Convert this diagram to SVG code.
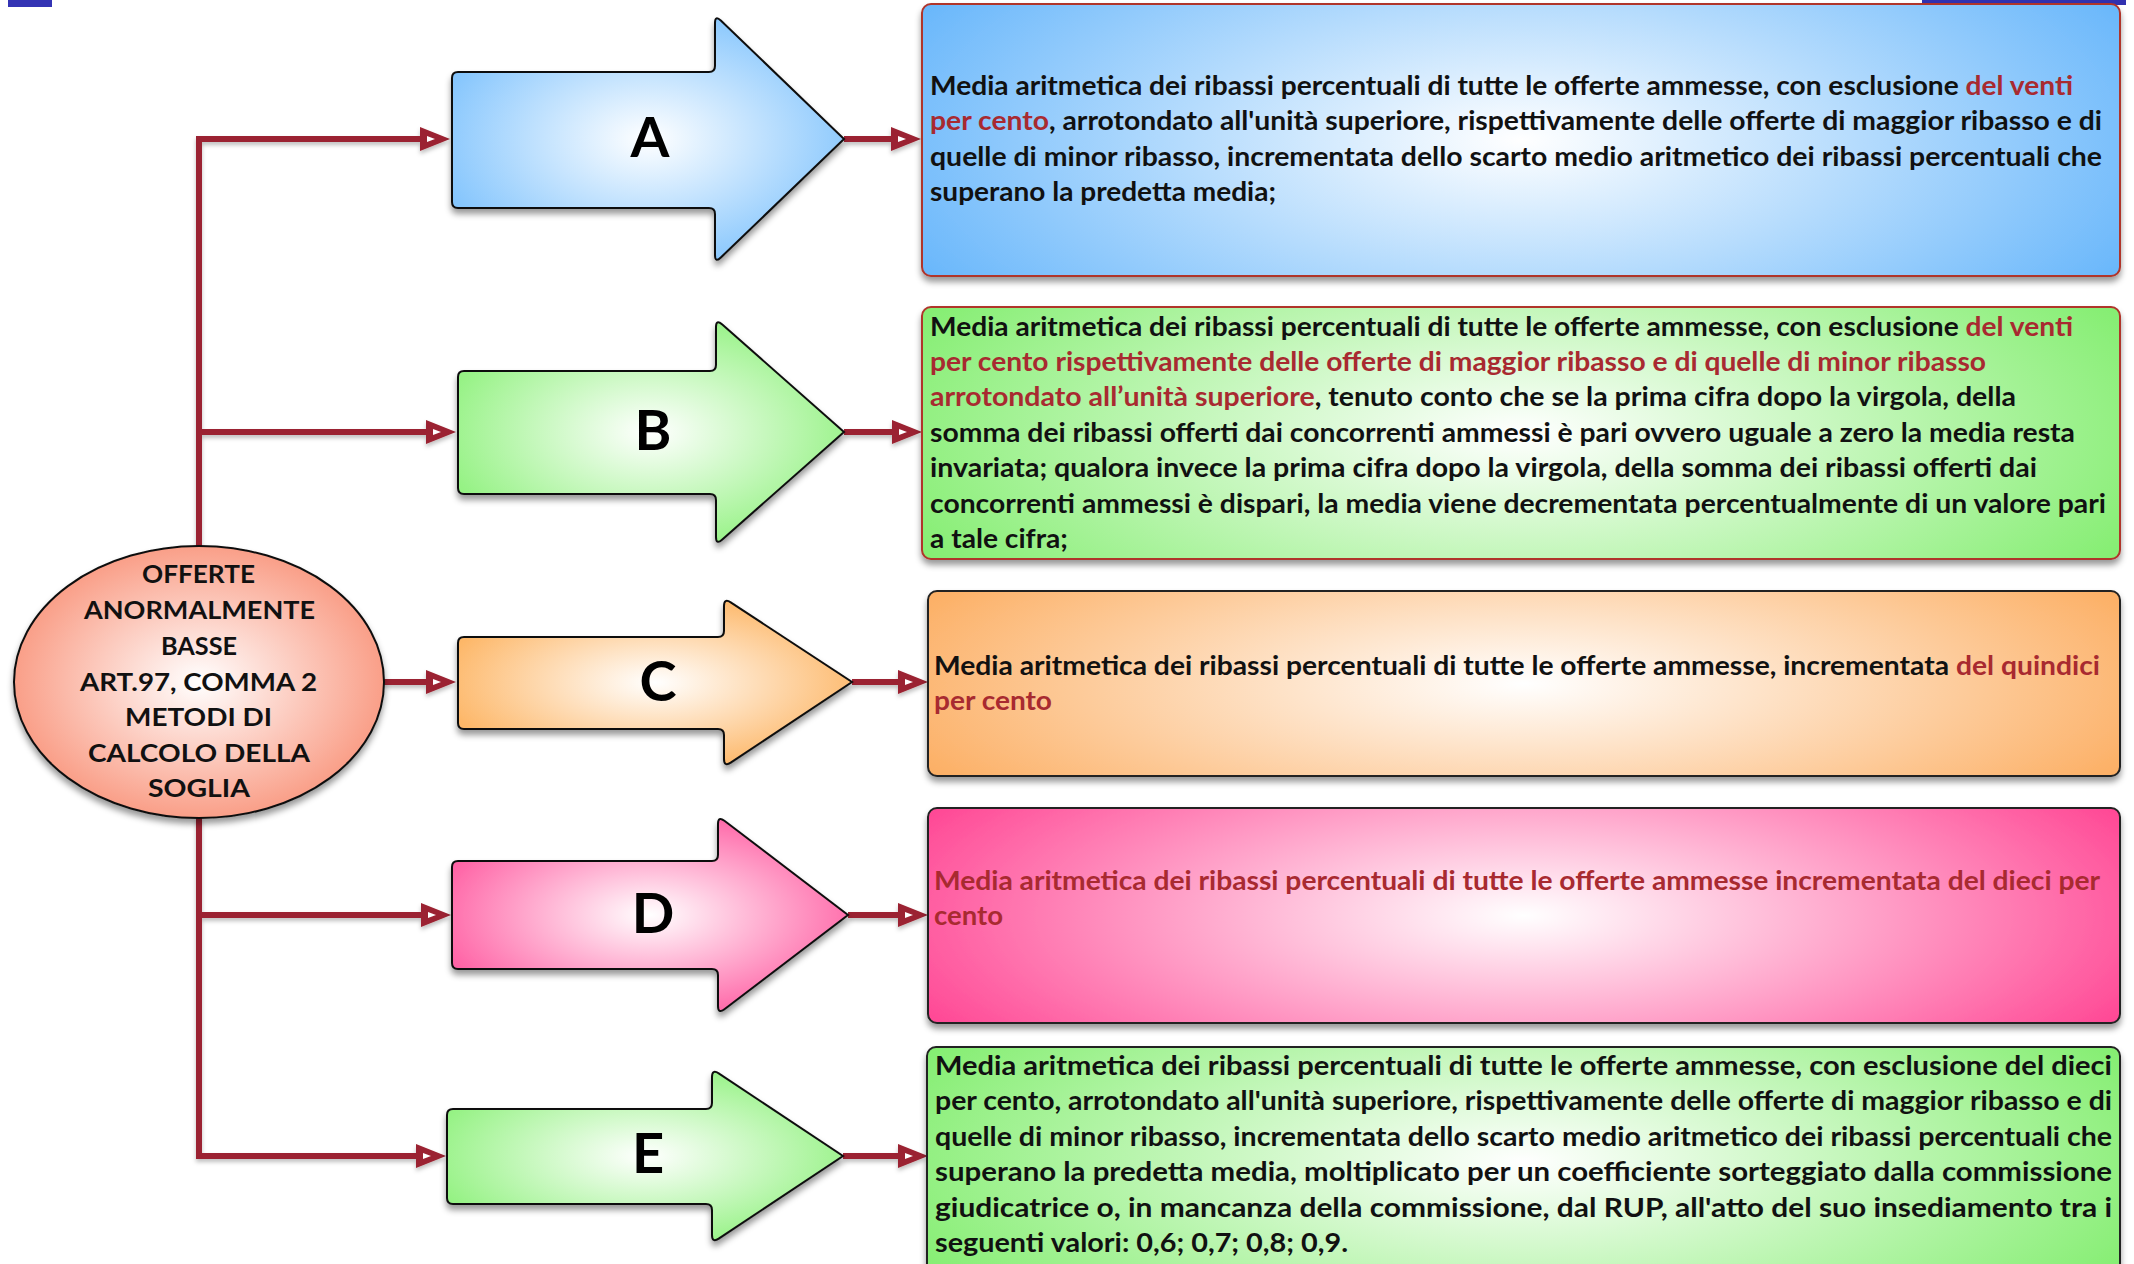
<svg xmlns="http://www.w3.org/2000/svg" width="2134" height="1264" viewBox="0 0 2134 1264">
  <defs>
    <style>
      .tx { font-family: Lato, "Liberation Sans", "DejaVu Sans", sans-serif; font-weight: 700; font-size: 26px; fill: #111; }
      .rd { fill: #a82a30; }
      .big { font-family: Lato, "Liberation Sans", sans-serif; font-weight: 700; font-size: 56px; fill: #000; text-anchor: middle; }
      .cap { font-family: Lato, "Liberation Sans", sans-serif; font-weight: 700; font-size: 25px; fill: #111; }
      .wire { fill: none; stroke: #9b2131; stroke-width: 6; stroke-linejoin: miter; marker-end: url(#head); }
      .shape { stroke: #111; stroke-width: 2; filter: url(#shadow); }
      .boxR { stroke: #b0352c; stroke-width: 2; filter: url(#shadow); }
      .boxK { stroke: #222; stroke-width: 2; filter: url(#shadow); }
    </style>
    <filter id="shadow" x="-5%" y="-5%" width="110%" height="120%">
      <feDropShadow dx="0" dy="5" stdDeviation="3" flood-color="#000" flood-opacity="0.4"/>
    </filter>
    <filter id="wshadow" x="-5%" y="-20%" width="110%" height="160%">
      <feDropShadow dx="0" dy="3" stdDeviation="2" flood-color="#000" flood-opacity="0.25"/>
    </filter>
    <marker id="head" markerUnits="userSpaceOnUse" markerWidth="32" markerHeight="26" refX="0" refY="12" orient="auto" overflow="visible">
      <path d="M0,0 L30,12 L0,24 Z" fill="#9b2131"/>
      <path d="M7,9 L15,12 L7,15 Z" fill="#fff"/>
    </marker>
    <!-- soft radial fills: white in the middle, colour at the rim -->
    <radialGradient id="gBlue" cx="0.5" cy="0.5" r="0.55">
      <stop offset="0" stop-color="#ffffff"/>
      <stop offset="1" stop-color="#86c6fd"/>
    </radialGradient>
    <radialGradient id="gGreen" cx="0.5" cy="0.5" r="0.55">
      <stop offset="0" stop-color="#ffffff"/>
      <stop offset="1" stop-color="#96f285"/>
    </radialGradient>
    <radialGradient id="gOrange" cx="0.5" cy="0.5" r="0.55">
      <stop offset="0" stop-color="#ffffff"/>
      <stop offset="1" stop-color="#fdb768"/>
    </radialGradient>
    <radialGradient id="gPink" cx="0.5" cy="0.5" r="0.55">
      <stop offset="0" stop-color="#ffffff"/>
      <stop offset="1" stop-color="#ff64a6"/>
    </radialGradient>
    <radialGradient id="gSalmon" cx="0.5" cy="0.5" r="0.55">
      <stop offset="0" stop-color="#ffffff"/>
      <stop offset="1" stop-color="#f9957c"/>
    </radialGradient>
    <!-- box fills: wider falloff vertically so the colour sits on the sides -->
    <radialGradient id="gBlueBox" cx="0.5" cy="0.5" r="0.56" gradientTransform="translate(0.5 0.5) scale(1 1.8) translate(-0.5 -0.5)">
      <stop offset="0" stop-color="#ffffff"/>
      <stop offset="1" stop-color="#6bb8fb"/>
    </radialGradient>
    <radialGradient id="gGreenBox" cx="0.5" cy="0.5" r="0.56" gradientTransform="translate(0.5 0.5) scale(1 1.8) translate(-0.5 -0.5)">
      <stop offset="0" stop-color="#ffffff"/>
      <stop offset="1" stop-color="#86ee73"/>
    </radialGradient>
    <radialGradient id="gOrangeBox" cx="0.5" cy="0.5" r="0.56" gradientTransform="translate(0.5 0.5) scale(1 1.8) translate(-0.5 -0.5)">
      <stop offset="0" stop-color="#ffffff"/>
      <stop offset="1" stop-color="#fcb066"/>
    </radialGradient>
    <radialGradient id="gPinkBox" cx="0.5" cy="0.5" r="0.56" gradientTransform="translate(0.5 0.5) scale(1 1.8) translate(-0.5 -0.5)">
      <stop offset="0" stop-color="#ffffff"/>
      <stop offset="1" stop-color="#ff4a96"/>
    </radialGradient>
  </defs>

  <rect width="2134" height="1264" fill="#ffffff"/>

  <!-- slide edge bars -->
  <rect x="8" y="0" width="44" height="7" fill="#3434b4"/>
  <rect x="1922" y="0" width="204" height="5" fill="#3131b0"/>

  <!-- connectors -->
  <g id="connectors" filter="url(#wshadow)">
    <path class="wire" d="M199,546 V139 H420"/>
    <path class="wire" d="M199,432 H426"/>
    <path class="wire" d="M383,682 H426"/>
    <path class="wire" d="M199,817 V1156 H416"/>
    <path class="wire" d="M199,915 H421"/>
    <path class="wire" d="M844,139 H891"/>
    <path class="wire" d="M844,432 H892"/>
    <path class="wire" d="M852,682 H898"/>
    <path class="wire" d="M848,915 H898"/>
    <path class="wire" d="M843,1156 H898"/>
  </g>

  <!-- central ellipse -->
  <g id="root">
    <ellipse class="shape" cx="199" cy="682" rx="185" ry="136" fill="url(#gSalmon)"/>
    <text class="cap" x="142" y="583" textLength="113" lengthAdjust="spacingAndGlyphs">OFFERTE</text>
    <text class="cap" x="84" y="619" textLength="231" lengthAdjust="spacingAndGlyphs">ANORMALMENTE</text>
    <text class="cap" x="161" y="655" textLength="76" lengthAdjust="spacingAndGlyphs">BASSE</text>
    <text class="cap" x="80" y="691" textLength="237" lengthAdjust="spacingAndGlyphs">ART.97, COMMA 2</text>
    <text class="cap" x="125" y="726" textLength="147" lengthAdjust="spacingAndGlyphs">METODI DI</text>
    <text class="cap" x="88" y="762" textLength="222" lengthAdjust="spacingAndGlyphs">CALCOLO DELLA</text>
    <text class="cap" x="148" y="797" textLength="102" lengthAdjust="spacingAndGlyphs">SOGLIA</text>
  </g>

  <!-- block arrows -->
  <g id="arrow-a">
    <path class="shape" fill="url(#gBlue)" d="M458,72 H709 Q715,72 715,66 V23 Q715,15 720.8,20.5 L844,139 L720.8,257.5 Q715,263 715,255 V214 Q715,208 709,208 H458 Q452,208 452,202 V78 Q452,72 458,72 Z"/>
    <text class="big" x="650" y="157">A</text>
  </g>
  <g id="arrow-b">
    <path class="shape" fill="url(#gGreen)" d="M464,371 H710 Q716,371 716,365 V327 Q716,319 722,324.3 L844,432 L722,539.7 Q716,545 716,537 V500 Q716,494 710,494 H464 Q458,494 458,488 V377 Q458,371 464,371 Z"/>
    <text class="big" x="653" y="450">B</text>
  </g>
  <g id="arrow-c">
    <path class="shape" fill="url(#gOrange)" d="M464,637 H718 Q724,637 724,631 V606 Q724,598 730.7,602.4 L852,682 L730.7,762.6 Q724,767 724,759 V735 Q724,729 718,729 H464 Q458,729 458,723 V643 Q458,637 464,637 Z"/>
    <text class="big" x="658" y="701">C</text>
  </g>
  <g id="arrow-d">
    <path class="shape" fill="url(#gPink)" d="M458,861 H712 Q718,861 718,855 V824 Q718,816 724.4,820.8 L848,915 L724.4,1009.2 Q718,1014 718,1006 V975 Q718,969 712,969 H458 Q452,969 452,963 V867 Q452,861 458,861 Z"/>
    <text class="big" x="653" y="933">D</text>
  </g>
  <g id="arrow-e">
    <path class="shape" fill="url(#gGreen)" d="M453,1109 H706 Q712,1109 712,1103 V1077 Q712,1069 718.7,1073.4 L843,1156 L718.7,1238.6 Q712,1243 712,1235 V1210 Q712,1204 706,1204 H453 Q447,1204 447,1198 V1115 Q447,1109 453,1109 Z"/>
    <text class="big" x="648" y="1173">E</text>
  </g>

  <!-- description boxes -->
  <g id="box-a">
    <rect class="boxR" x="922" y="4" width="1198" height="272" rx="9" fill="url(#gBlueBox)"/>
    <text class="tx" x="930" y="95" textLength="1143" lengthAdjust="spacingAndGlyphs">Media aritmetica dei ribassi percentuali di tutte le offerte ammesse, con esclusione <tspan class="rd">del venti</tspan></text>
    <text class="tx" x="930" y="130" textLength="1172" lengthAdjust="spacingAndGlyphs"><tspan class="rd">per cento</tspan>, arrotondato all'unità superiore, rispettivamente delle offerte di maggior ribasso e di</text>
    <text class="tx" x="930" y="166" textLength="1172" lengthAdjust="spacingAndGlyphs">quelle di minor ribasso, incrementata dello scarto medio aritmetico dei ribassi percentuali che</text>
    <text class="tx" x="930" y="201" textLength="346" lengthAdjust="spacingAndGlyphs">superano la predetta media;</text>
  </g>

  <g id="box-b">
    <rect class="boxR" x="922" y="307" width="1198" height="252" rx="9" fill="url(#gGreenBox)"/>
    <text class="tx" x="930" y="336" textLength="1143" lengthAdjust="spacingAndGlyphs">Media aritmetica dei ribassi percentuali di tutte le offerte ammesse, con esclusione <tspan class="rd">del venti</tspan></text>
    <text class="tx rd" x="930" y="371" textLength="1056" lengthAdjust="spacingAndGlyphs">per cento rispettivamente delle offerte di maggior ribasso e di quelle di minor ribasso</text>
    <text class="tx" x="930" y="406" textLength="1086" lengthAdjust="spacingAndGlyphs"><tspan class="rd">arrotondato all’unità superiore</tspan>, tenuto conto che se la prima cifra dopo la virgola, della</text>
    <text class="tx" x="930" y="442" textLength="1145" lengthAdjust="spacingAndGlyphs">somma dei ribassi offerti dai concorrenti ammessi è pari ovvero uguale a zero la media resta</text>
    <text class="tx" x="930" y="477" textLength="1107" lengthAdjust="spacingAndGlyphs">invariata; qualora invece la prima cifra dopo la virgola, della somma dei ribassi offerti dai</text>
    <text class="tx" x="930" y="513" textLength="1176" lengthAdjust="spacingAndGlyphs">concorrenti ammessi è dispari, la media viene decrementata percentualmente di un valore pari</text>
    <text class="tx" x="930" y="548" textLength="138" lengthAdjust="spacingAndGlyphs">a tale cifra;</text>
  </g>

  <g id="box-c">
    <rect class="boxK" x="928" y="591" width="1192" height="185" rx="9" fill="url(#gOrangeBox)"/>
    <text class="tx" x="934" y="675" textLength="1166" lengthAdjust="spacingAndGlyphs">Media aritmetica dei ribassi percentuali di tutte le offerte ammesse, incrementata <tspan class="rd">del quindici</tspan></text>
    <text class="tx rd" x="934" y="710" textLength="118" lengthAdjust="spacingAndGlyphs">per cento</text>
  </g>

  <g id="box-d">
    <rect class="boxK" x="928" y="808" width="1192" height="215" rx="9" fill="url(#gPinkBox)"/>
    <text class="tx rd" x="934" y="890" textLength="1166" lengthAdjust="spacingAndGlyphs">Media aritmetica dei ribassi percentuali di tutte le offerte ammesse incrementata del dieci per</text>
    <text class="tx rd" x="934" y="925" textLength="69" lengthAdjust="spacingAndGlyphs">cento</text>
  </g>

  <g id="box-e">
    <rect class="boxK" x="927" y="1047" width="1193" height="230" rx="9" fill="url(#gGreenBox)"/>
    <text class="tx" x="935" y="1075" textLength="1177" lengthAdjust="spacingAndGlyphs">Media aritmetica dei ribassi percentuali di tutte le offerte ammesse, con esclusione del dieci</text>
    <text class="tx" x="935" y="1110" textLength="1177" lengthAdjust="spacingAndGlyphs">per cento, arrotondato all'unità superiore, rispettivamente delle offerte di maggior ribasso e di</text>
    <text class="tx" x="935" y="1146" textLength="1177" lengthAdjust="spacingAndGlyphs">quelle di minor ribasso, incrementata dello scarto medio aritmetico dei ribassi percentuali che</text>
    <text class="tx" x="935" y="1181" textLength="1177" lengthAdjust="spacingAndGlyphs">superano la predetta media, moltiplicato per un coefficiente sorteggiato dalla commissione</text>
    <text class="tx" x="935" y="1217" textLength="1177" lengthAdjust="spacingAndGlyphs">giudicatrice o, in mancanza della commissione, dal RUP, all'atto del suo insediamento tra i</text>
    <text class="tx" x="935" y="1252" textLength="413" lengthAdjust="spacingAndGlyphs">seguenti valori: 0,6; 0,7; 0,8; 0,9.</text>
  </g>
</svg>
